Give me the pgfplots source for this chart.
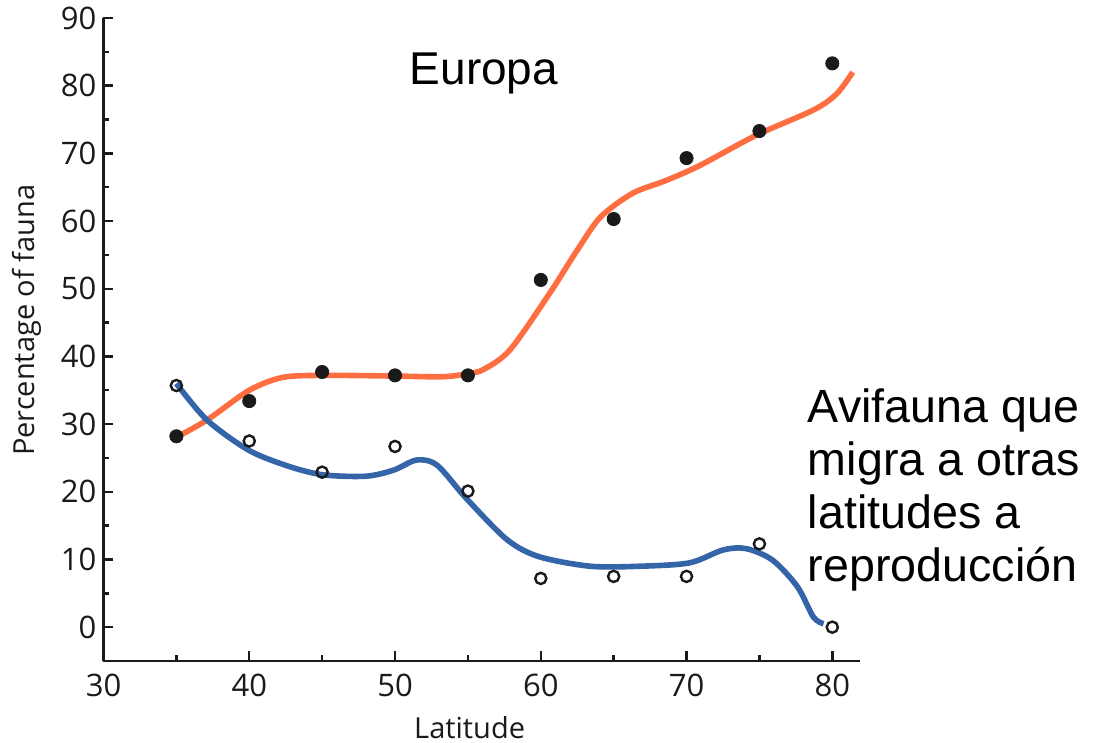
\documentclass[border=0pt]{standalone}
\usepackage{pgfplots}
\pgfplotsset{compat=1.18}
\usepackage{fontspec}
\setmainfont{Open Sans}
\newfontfamily\arialfont{Liberation Sans}
\definecolor{curveorange}{HTML}{FF6E41}
\definecolor{curveblue}{HTML}{3465A8}
\definecolor{dotblack}{HTML}{1A1A1A}
\begin{document}
\begin{tikzpicture}
\begin{axis}[
    scale only axis,
    width=378.25pt, height=321.5pt,
    xmin=30, xmax=81.9, ymin=-5, ymax=90,
    axis lines=left,
    axis line style={-, line width=1.4pt, color=dotblack},
    xtick={30,40,...,80}, ytick={0,10,...,90},
    minor tick num=1,
    tick style={line width=1.2pt, color=dotblack},
    major tick length=5pt, minor tick length=3pt,
    tick align=inside,
    ticklabel style={font=\fontsize{15.5}{18}\selectfont, text=dotblack},
    xticklabel style={yshift=-3pt},
    /pgf/number format/assume math mode=true,
    xlabel={Latitude}, ylabel={Percentage of fauna},
    label style={font=\fontsize{14.5}{17}\selectfont, text=dotblack},
    xlabel style={at={(axis description cs:0.484,-0.103)}, anchor=center},
    ylabel style={at={(axis description cs:-0.101,0.53)}, anchor=center},
    clip=false,
]
\coordinate (sw) at (rel axis cs:0,0);
% filled points: Europe fauna share
\addplot[only marks, mark=*, mark size=3.3pt, color=dotblack] coordinates {
    (35,28.2) (40,33.4) (45,37.7) (50,37.2) (55,37.2)
    (60,51.3) (65,60.3) (70,69.3) (75,73.3) (80,83.3)
};
% open points: migrating avifauna
\addplot[only marks, mark=o, mark size=2.8pt, line width=1.2pt, color=dotblack] coordinates {
    (35,35.7) (40,27.5) (45,22.9) (50,26.7) (55,20.1)
    (60,7.2) (65,7.5) (70,7.5) (75,12.3) (80,0)
};
% fitted curves
\addplot[smooth, line width=2.8pt, color=curveorange] coordinates {
    (34.7,27.7) (37.1,30.6) (40.0,35.0) (42.3,36.9) (45.1,37.2)
    (49.9,37.1) (53.3,37.0) (55.1,37.5) (56.1,38.1) (57.9,41.0)
    (60.6,49.3) (62.5,55.7) (64.1,60.6) (66.3,64.1) (68.6,66.0)
    (70.9,68.2) (74.8,72.7) (78.7,76.4) (80.3,78.8) (81.4,82.0)
};
\addplot[smooth, line width=2.8pt, color=curveblue] coordinates {
    (35.0,36.0) (37.1,30.6) (40.0,26.1) (42.8,23.7) (45.1,22.5)
    (48.0,22.3) (49.9,23.2) (51.5,24.7) (52.9,23.9) (54.9,19.0)
    (57.7,12.9) (59.9,10.4) (63.4,9.0) (66.8,9.0) (70.2,9.5)
    (72.5,11.4) (74.1,11.6) (75.9,9.9) (77.6,6.0) (78.7,1.5) (79.4,0.5)
};
\node[font=\arialfont\fontsize{23}{26}\selectfont, anchor=center]
    at (axis cs:56.1,81.8) {Europa};
\node[font=\arialfont\fontsize{23.3}{26.5}\selectfont, anchor=north west,
      align=left, inner sep=0pt]
    at (axis cs:78.3,35.3) {Avifauna que\\migra a otras\\latitudes a\\reproducción};
\end{axis}
\pgfresetboundingbox
\path[use as bounding box] ([shift={(-51.75pt,-41pt)}]sw) rectangle ([shift={(494.75pt,330.5pt)}]sw);
\end{tikzpicture}
\end{document}
